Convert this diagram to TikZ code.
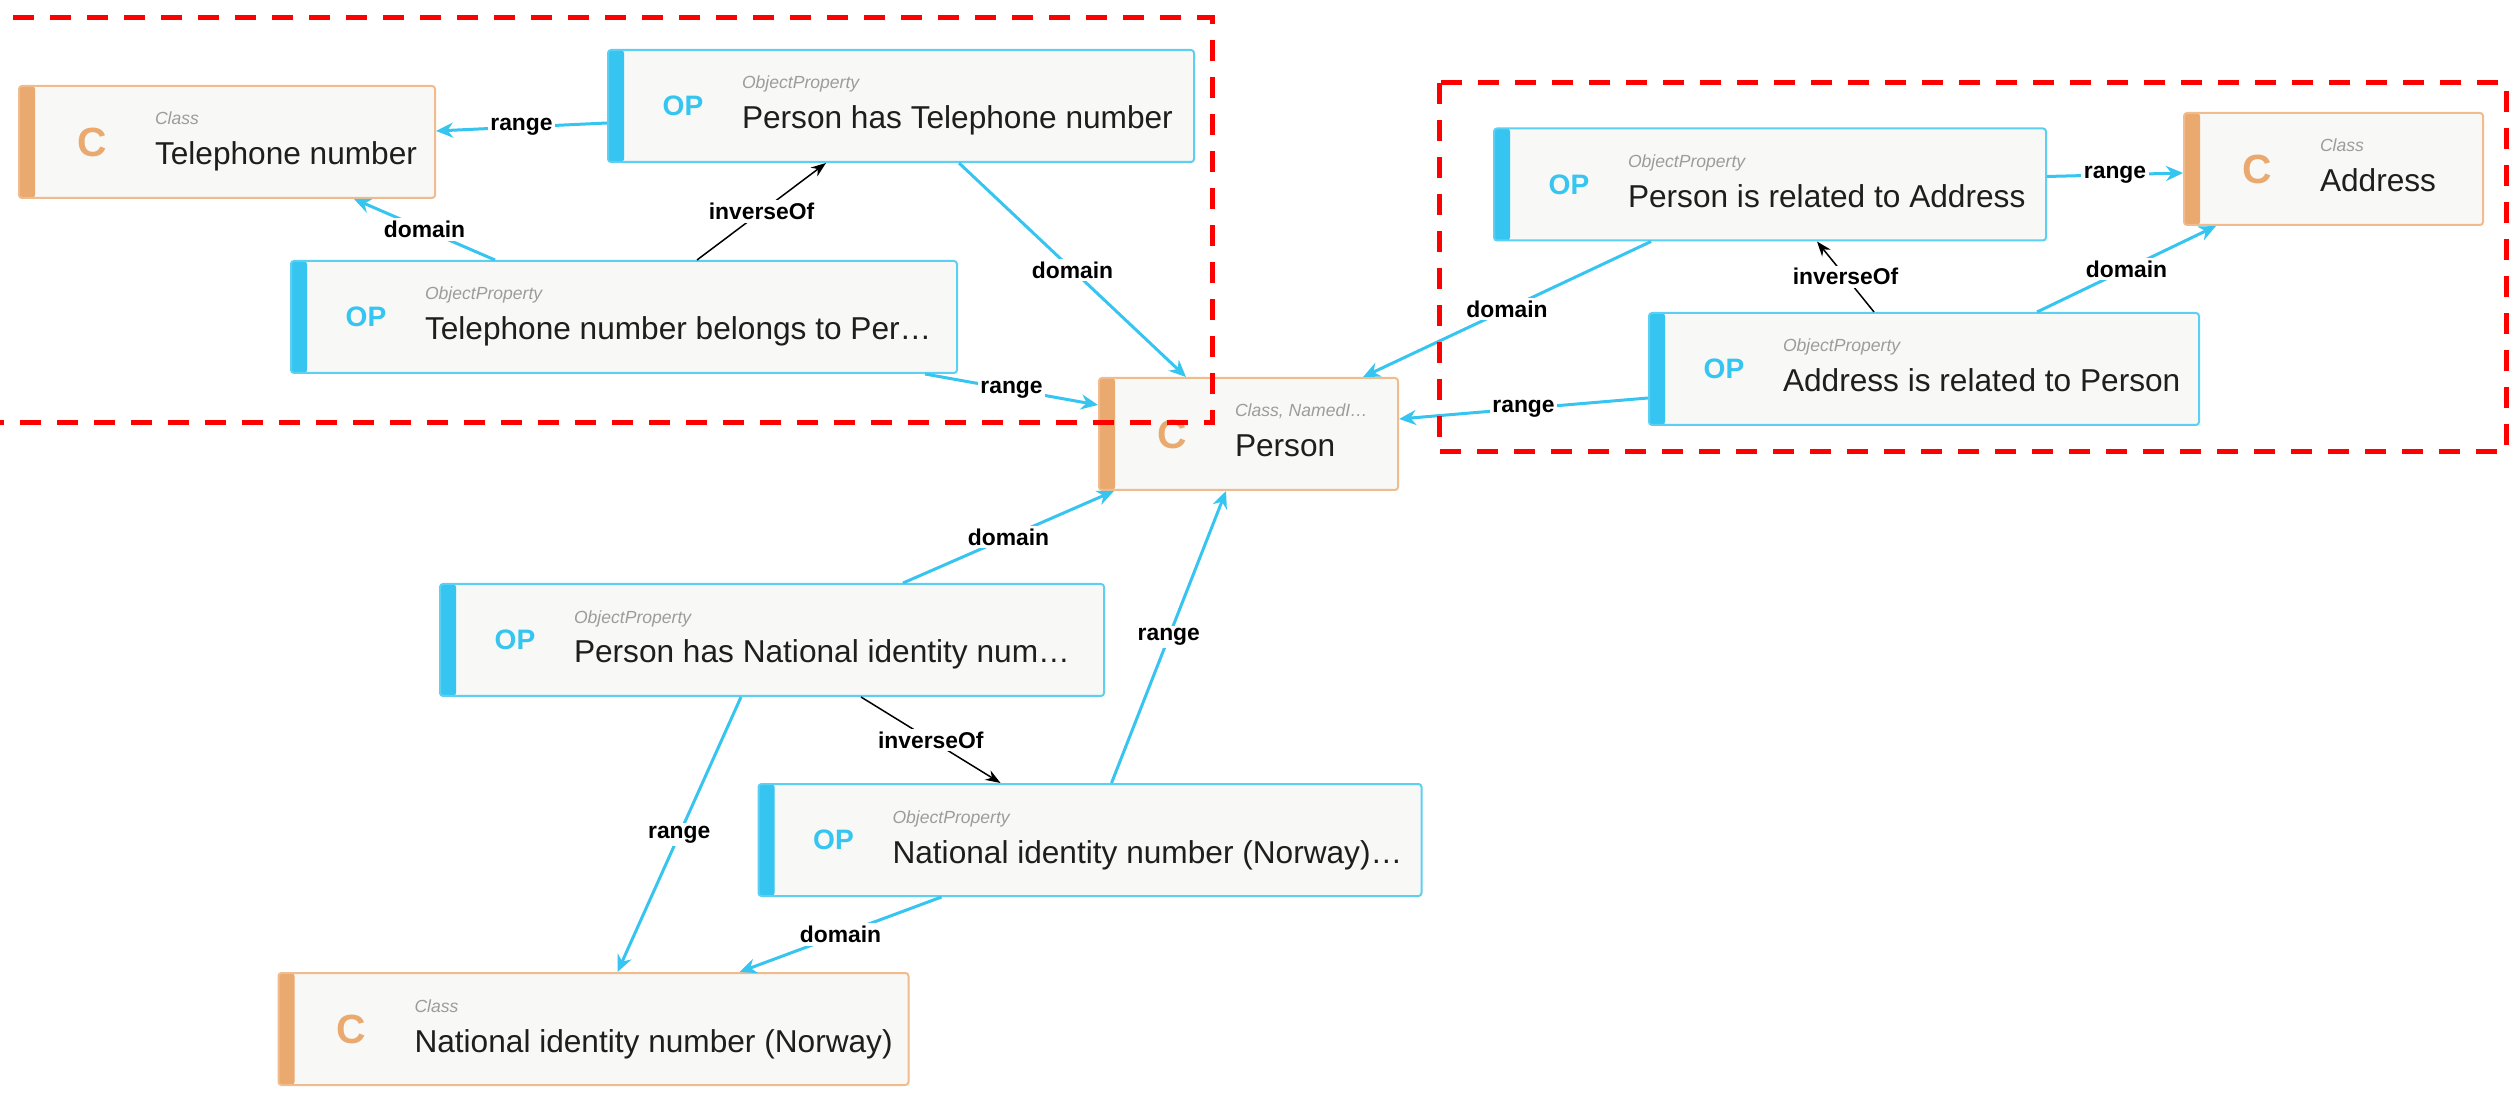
\documentclass[tikz,border=0pt]{standalone}
\usepackage{fontspec}
\setmainfont{Liberation Sans}
\usetikzlibrary{arrows.meta, positioning, calc}
\definecolor{clsorange}{HTML}{E9A96F}
\definecolor{clsborder}{HTML}{F0BC8E}
\definecolor{opblue}{HTML}{36C5F0}
\definecolor{opborder}{HTML}{5CD0F3}
\definecolor{boxfill}{HTML}{F8F8F6}
\definecolor{typegrey}{HTML}{9C9C9C}
\definecolor{textdark}{HTML}{1E1E1E}
\definecolor{zonered}{HTML}{FF0000}
\tikzset{
  every picture/.style={line width=0.02cm},
  basebox/.style={rectangle, rounded corners=0.03cm, fill=boxfill, minimum height=1.12cm, inner sep=0pt,
    path picture={\fill[fill=#1] (path picture bounding box.north west) rectangle ([xshift=0.16cm]path picture bounding box.south west);}},
  clsbox/.style={basebox=clsorange, draw=clsborder},
  opbox/.style={basebox=opblue, draw=opborder},
  clsicon/.style={font=\bfseries\fontsize{11.6}{12}\selectfont, text=clsorange, inner sep=0pt},
  opicon/.style={font=\bfseries\fontsize{8}{9}\selectfont, text=opblue, inner sep=0pt},
  typetxt/.style={anchor=base west, inner sep=0pt, font=\itshape\fontsize{5}{6}\selectfont, text=typegrey},
  maintxt/.style={anchor=base west, inner sep=0pt, font=\fontsize{9}{10}\selectfont, text=textdark},
  rel/.style={-{Stealth[length=0.17cm, width=0.15cm]}, draw=opblue, line width=0.03cm},
  inv/.style={-{Stealth[length=0.15cm, width=0.11cm]}, draw=black, line width=0.015cm},
  elabel/.style={fill=white, inner sep=0.8pt, font=\bfseries\fontsize{6.5}{7}\selectfont, text=black},
  zone/.style={draw=zonered, line width=0.05cm, dash pattern=on 0.21cm off 0.16cm},
}

\begin{document}
\begin{tikzpicture}
  \useasboundingbox (0,0) rectangle (25.09,-10.95);
  % classes
  \foreach \nm/\cx/\cy/\w/\ty/\tx in {
      tn/2.27/-1.42/4.16/Class/Telephone number,
      per/12.485/-4.34/2.99/{Class, NamedI…}/Person,
      adr/23.335/-1.69/2.99/Class/Address,
      nic/5.935/-10.29/6.30/Class/National identity number (Norway)} {
    \node[clsbox, minimum width=\w cm] (\nm) at (\cx,\cy) {};
    \node[clsicon] (\nm-ic) at ([xshift=0.74cm]\nm.west) {C};
    \node[typetxt] (\nm-ty) at ([xshift=1.36cm, yshift=0.17cm]\nm.west) {\ty};
    \node[maintxt] (\nm-tx) at ([xshift=1.36cm, yshift=-0.23cm]\nm.west) {\tx};
  }
  % object properties
  \foreach \nm/\cx/\cy/\w/\tx in {
      pht/9.01/-1.06/5.86/Person has Telephone number,
      tbp/6.24/-3.17/6.66/Telephone number belongs to Per…,
      pra/17.70/-1.845/5.52/Person is related to Address,
      arp/19.24/-3.69/5.50/Address is related to Person,
      phn/7.72/-6.40/6.64/Person has National identity num…,
      nin/10.90/-8.40/6.63/National identity number (Norway)…} {
    \node[opbox, minimum width=\w cm] (\nm) at (\cx,\cy) {};
    \node[opicon] (\nm-ic) at ([xshift=0.76cm]\nm.west) {OP};
    \node[typetxt] (\nm-ty) at ([xshift=1.34cm, yshift=0.17cm]\nm.west) {ObjectProperty};
    \node[maintxt] (\nm-tx) at ([xshift=1.34cm, yshift=-0.23cm]\nm.west) {\tx};
  }
  % telephone
  \draw[rel] ([yshift=-0.17cm]pht.west) -- node[elabel] (e1) {range} ([yshift=0.11cm]tn.east);
  \draw[rel] ([xshift=2.05cm]tbp.north west) -- node[elabel] (e2) {domain} ([xshift=3.36cm]tn.south west);
  \draw[inv] ([xshift=4.07cm]tbp.north west) -- node[elabel] (e3) {inverseOf} ([xshift=2.19cm]pht.south west);
  \draw[rel] ([xshift=3.52cm]pht.south west) -- node[elabel] (e4) {domain} ([xshift=0.88cm]per.north west);
  \draw[rel] ([xshift=6.35cm]tbp.south west) -- node[elabel] (e5) {range} ([yshift=0.29cm]per.west);
  % address
  \draw[rel] ([xshift=1.58cm]pra.south west) -- node[elabel] (e6) {domain} ([xshift=2.65cm]per.north west);
  \draw[rel] ([yshift=-0.29cm]arp.west) -- node[elabel] (e7) {range} ([yshift=0.15cm]per.east);
  \draw[rel] ([yshift=0.08cm]pra.east) -- node[elabel] (e8) {range} ([yshift=-0.04cm]adr.west);
  \draw[rel] ([xshift=3.89cm]arp.north west) -- node[elabel] (e9) {domain} ([xshift=0.33cm]adr.south west);
  \draw[inv] ([xshift=2.26cm]arp.north west) -- node[elabel] (e10) {inverseOf} ([xshift=3.24cm]pra.south west);
  % national identity number
  \draw[rel] ([xshift=4.64cm]phn.north west) -- node[elabel] (e11) {domain} ([xshift=0.16cm]per.south west);
  \draw[rel] ([xshift=3.54cm]nin.north west) -- node[elabel] (e12) {range} ([xshift=1.28cm]per.south west);
  \draw[inv] ([xshift=4.22cm]phn.south west) -- node[elabel] (e13) {inverseOf} ([xshift=2.43cm]nin.north west);
  \draw[rel] ([xshift=3.02cm]phn.south west) -- node[elabel] (e14) {range} ([xshift=3.40cm]nic.north west);
  \draw[rel] ([xshift=1.84cm]nin.south west) -- node[elabel] (e15) {domain} ([xshift=4.62cm]nic.north west);
  % highlighted zones
  \draw[zone] (0.13,-0.18) -- (12.12,-0.18) -- (12.12,-4.23) -- (0,-4.23);
  \draw[zone] (14.39,-0.83) rectangle (25.06,-4.52);
\end{tikzpicture}
\end{document}
